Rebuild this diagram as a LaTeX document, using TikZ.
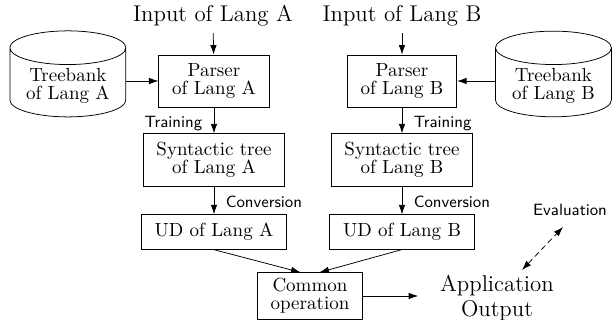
\documentclass[tikz,border=0pt]{standalone}
\usepackage{tikz}
\usetikzlibrary{shapes.geometric,positioning,arrows.meta}

\begin{document}
\begin{tikzpicture}[x=0.5263pt, y=0.5263pt, >={Latex[length=5pt,width=3.4pt]},
      every node/.style={align=center, font=\fontsize{10}{9.5}\selectfont},
      stage/.style={draw, inner xsep=7pt, inner ysep=4.5pt},
      wide/.style={stage, minimum width=72pt},
      bank/.style={draw, cylinder, shape border rotate=90, aspect=0.35,
                   minimum width=61pt, inner ysep=2pt},
      lbl/.style={font=\fontsize{8.6}{10}\sffamily},
      src/.style={font=\large}]
  \useasboundingbox (0,0) rectangle (612,320);

  \node [src] (inA) at (213,304) {Input of Lang A};
  \node [src] (inB) at (402,304) {Input of Lang B};

  \node [stage] (parA) at (214,239) {Parser\\of Lang A};
  \node [stage] (parB) at (402,239) {Parser\\of Lang B};
  \node [bank, left=17pt of parA, yshift=-2.8pt] (tbA) {Treebank\\of Lang A};
  \node [bank, right=20pt of parB, yshift=-2.8pt] (tbB) {Treebank\\of Lang B};

  \node [wide] (synA) at (214,160) {Syntactic tree\\of Lang A};
  \node [wide] (synB) at (402,160) {Syntactic tree\\of Lang B};
  \node [wide] (udA) at (214,88) {UD of Lang A};
  \node [wide] (udB) at (402,88) {UD of Lang B};

  \node [stage, inner ysep=3pt] (com) at (310,24) {Common\\operation};
  \node [src, font=\fontsize{12}{13.5}\selectfont] (app) at (497,22) {Application\\Output};
  \node [lbl] (eval) at (570,110) {Evaluation};
  \coordinate (evLo) at (522,50);
  \coordinate (evHi) at (563,93);

  \draw [->] (inA) -- (parA);
  \draw [->] (inB) -- (parB);
  \draw [->] (tbA.east |- parA.west) -- (parA.west);
  \draw [->] (tbB.west |- parB.east) -- (parB.east);
  \draw [->] (parA) -- node [lbl, left, pos=0.62, inner xsep=6pt] {Training} (synA);
  \draw [->] (parB) -- node [lbl, right, pos=0.62, inner xsep=6pt] {Training} (synB);
  \draw [->] (synA) -- node [lbl, right, pos=0.55, inner xsep=6pt] {Conversion} (udA);
  \draw [->] (synB) -- node [lbl, right, pos=0.55, inner xsep=6pt] {Conversion} (udB);
  \draw [->] (udA.south) -- ([xshift=-5pt]com.north);
  \draw [->] (udB.south) -- ([xshift=5pt]com.north);
  \draw [->] (com.east) -- ++(29pt,0);
  \draw [<->, densely dashed] (evLo) -- (evHi);
\end{tikzpicture}
\end{document}
